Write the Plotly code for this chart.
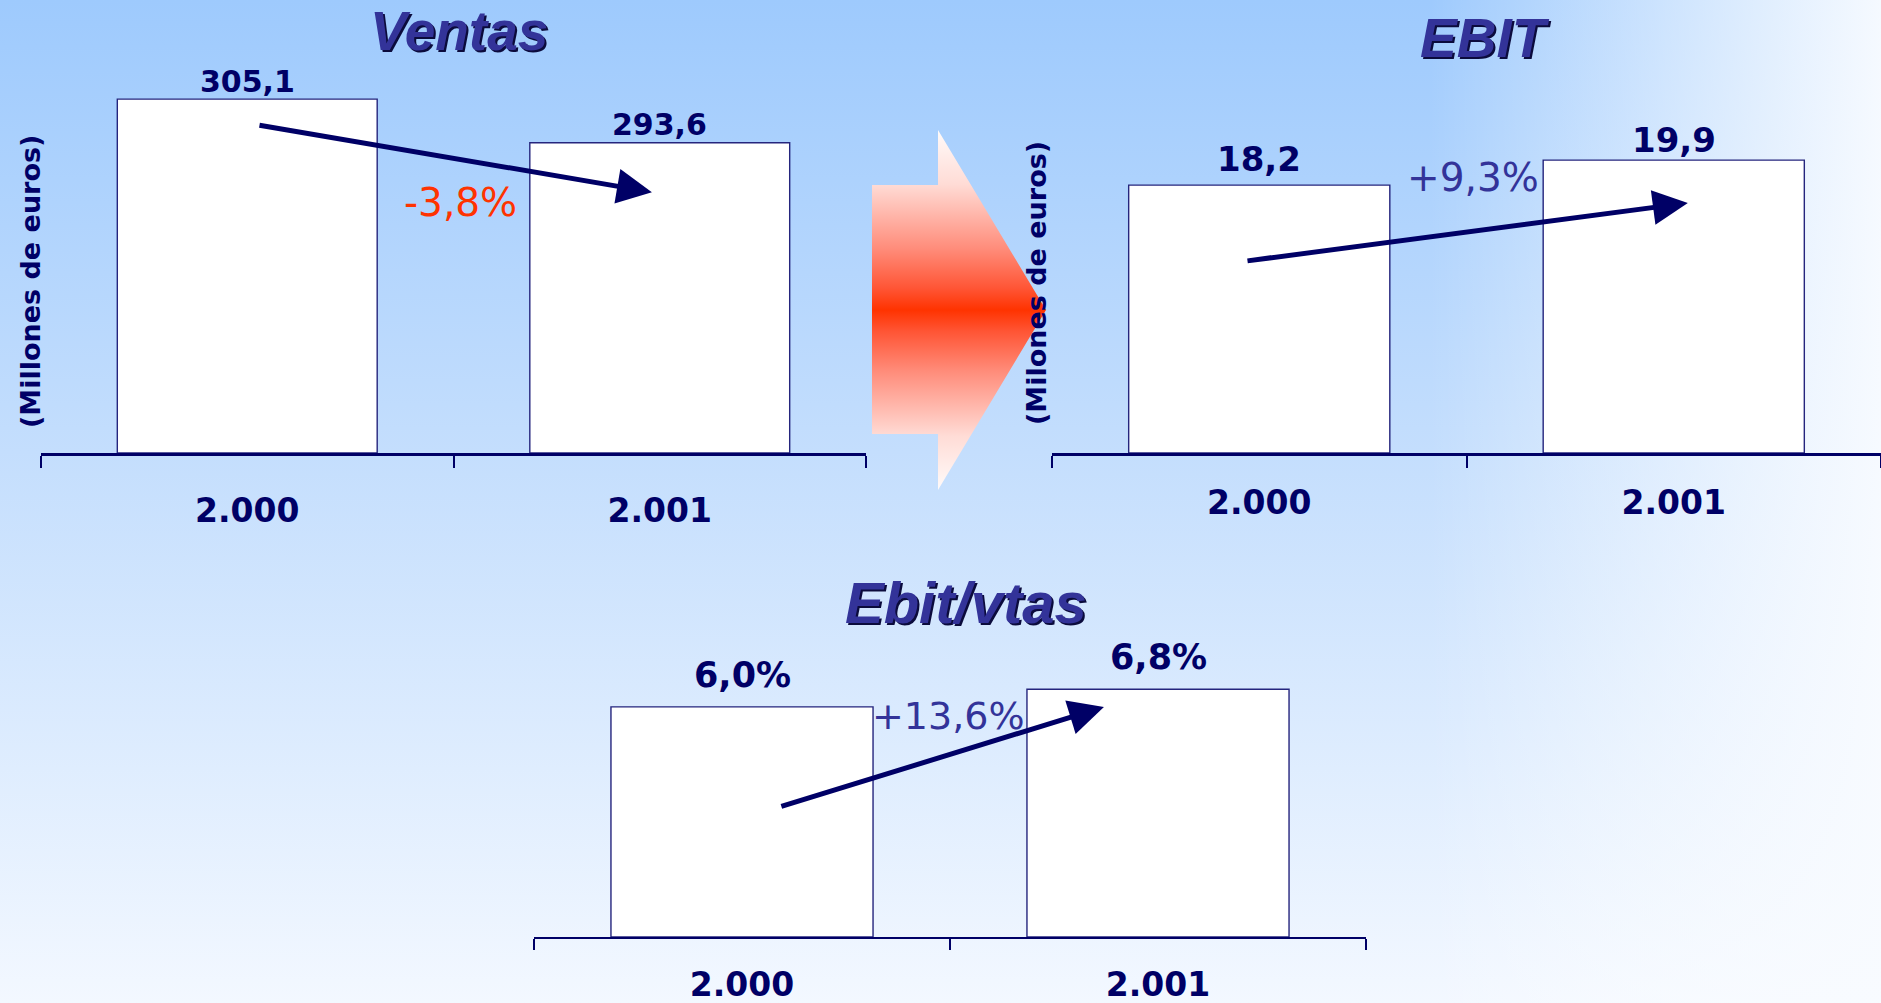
import base64
import plotly.graph_objects as go

W, H = 1881, 1003

# ---------------- data ----------------
years = ["2.000", "2.001"]
ventas = [305.1, 293.6]
ventas_labels = ["305,1", "293,6"]
ebit = [18.2, 19.9]
ebit_labels = ["18,2", "19,9"]
ratio = [6.0, 6.8]
ratio_labels = ["6,0%", "6,8%"]
ventas_change = "-3,8%"
ebit_change = "+9,3%"
ratio_change = "+13,6%"

# ---------------- style ----------------
NAVY = "#000066"
TITLE_C = "#333399"
BAR_LINE = "#25257d"
FONT_B = "DejaVu Sans"
FONT_T = "Liberation Sans, Arial, sans-serif"


def px(x):
    return x / W


def py(y):
    return 1 - y / H


# axis ranges (value axes are truncated in the original)
ventas_range = [211.9, 315.4]
ebit_range = [0, 26.7]
ratio_range = [-4.4, 12.64]
cat_range = [-0.5, 1.5]

# background (gradient) + red block arrow as an SVG layout image
svg = f"""<svg xmlns='http://www.w3.org/2000/svg' width='{W}' height='{H}' viewBox='0 0 {W} {H}' preserveAspectRatio='none'>
<defs>
<linearGradient id='v' x1='0' y1='0' x2='0' y2='1'>
<stop offset='0' stop-color='#9ecafd'/><stop offset='0.45' stop-color='#c4defd'/><stop offset='1' stop-color='#f3f8ff'/>
</linearGradient>
<linearGradient id='h' x1='0' y1='0' x2='1' y2='0'>
<stop offset='0.76' stop-color='#ffffff' stop-opacity='0'/><stop offset='1' stop-color='#f8fbff' stop-opacity='0.97'/>
</linearGradient>
<linearGradient id='r' x1='0' y1='0' x2='0' y2='1'>
<stop offset='0' stop-color='#fffbfa'/><stop offset='0.15' stop-color='#ffdcd6'/><stop offset='0.33' stop-color='#ff8c7a'/>
<stop offset='0.44' stop-color='#ff5535'/><stop offset='0.5' stop-color='#ff3300'/><stop offset='0.56' stop-color='#ff5535'/>
<stop offset='0.67' stop-color='#ff8c7a'/><stop offset='0.85' stop-color='#ffdcd6'/><stop offset='1' stop-color='#fffbfa'/>
</linearGradient>
</defs>
<rect x='0' y='0' width='{W}' height='{H}' fill='url(#v)'/>
<rect x='0' y='0' width='{W}' height='{H}' fill='url(#h)'/>
<polygon points='872,185 938,185 938,130 1046,310 938,490 938,434 872,434' fill='url(#r)'/>
</svg>"""
svg_uri = "data:image/svg+xml;base64," + base64.b64encode(svg.encode()).decode()

fig = go.Figure()

bar_style = dict(marker=dict(color="white", line=dict(color=BAR_LINE, width=1.4)),
                 hoverinfo="skip", showlegend=False)

fig.add_trace(go.Bar(x=years, y=[v - ventas_range[0] for v in ventas], base=ventas_range[0],
                     xaxis="x", yaxis="y", **bar_style))
fig.add_trace(go.Bar(x=years, y=[v - ebit_range[0] for v in ebit], base=ebit_range[0],
                     xaxis="x2", yaxis="y2", **bar_style))
fig.add_trace(go.Bar(x=years, y=[v - ratio_range[0] for v in ratio], base=ratio_range[0],
                     xaxis="x3", yaxis="y3", **bar_style))


def xaxis(dom, lw, standoff, anchor, ticklen=12):
    return dict(domain=[px(dom[0]), px(dom[1])], type="category", range=cat_range,
                anchor=anchor, showline=True,
                linecolor=NAVY, linewidth=lw, ticks="outside", tickson="boundaries",
                ticklen=ticklen, tickwidth=2, tickcolor=NAVY, showgrid=False, zeroline=False,
                tickfont=dict(family=FONT_B, size=33, color=NAVY, weight="bold"),
                ticklabelstandoff=standoff, fixedrange=True)


def yaxis(dom, rng, anchor):
    return dict(domain=[py(dom[0]), py(dom[1])], range=rng, visible=False, fixedrange=True,
                anchor=anchor)


fig.update_layout(
    width=W, height=H, autosize=False,
    margin=dict(l=0, r=0, t=0, b=0),
    paper_bgcolor="#ffffff", plot_bgcolor="rgba(0,0,0,0)",
    bargap=0.37,
    xaxis=xaxis([41, 866], 3, 26, "y"),
    yaxis=yaxis([453, 60], ventas_range, "x"),
    xaxis2=xaxis([1052, 1881], 3, 18, "y2"),
    yaxis2=yaxis([453, 60], ebit_range, "x2"),
    xaxis3=xaxis([534, 1366], 2, 17, "y3", 11),
    yaxis3=yaxis([937, 560], ratio_range, "x3"),
    images=[dict(source=svg_uri, xref="paper", yref="paper", x=0, y=1, sizex=1, sizey=1,
                 xanchor="left", yanchor="top", sizing="stretch", layer="below")],
)

ann = []

# titles with shadow
for text, cx, cy, size in [("Ventas", 459, 31, 55), ("EBIT", 1485, 38, 55), ("Ebit/vtas", 966, 602, 58)]:
    for col, dx, dy in [("#0b0b3c", 2, -2), (TITLE_C, 0, 0)]:
        ann.append(dict(text=f"<b><i>{text}</i></b>", x=px(cx), y=py(cy), xref="paper", yref="paper",
                        xanchor="center", yanchor="middle", showarrow=False, xshift=dx, yshift=dy,
                        font=dict(family=FONT_T, size=size, color=col)))

# y-axis titles
for text, cx, cy in [("(Millones de euros)", 30, 282), ("(Milones de euros)", 1037, 283)]:
    ann.append(dict(text=f"<b>{text}</b>", x=px(cx), y=py(cy), xref="paper", yref="paper",
                    textangle=-90, showarrow=False, xanchor="center", yanchor="middle",
                    font=dict(family=FONT_B, size=27, color=NAVY)))

# value labels (x given as category index)
for xa, ya, vals, labs, size, gaps in [("x", "y", ventas, ventas_labels, 30, [6, 6]),
                                       ("x2", "y2", ebit, ebit_labels, 34, [13, 7]),
                                       ("x3", "y3", ratio, ratio_labels, 35, [19, 19])]:
    for i, (v, lab, g) in enumerate(zip(vals, labs, gaps)):
        ann.append(dict(text=f"<b>{lab}</b>", x=i, y=v, xref=xa, yref=ya, showarrow=False,
                        xanchor="center", yanchor="bottom", yshift=g - 0.25 * size,
                        font=dict(family=FONT_B, size=size, color=NAVY)))

# trend arrows (tail -> head, in each subplot's coordinates)
for xa, ya, tail, head in [("x", "y", (0.026, 298.3), (0.981, 280.6)),
                           ("x2", "y2", (-0.032, 13.04), (1.034, 16.99)),
                           ("x3", "y3", (0.091, 1.48), (0.870, 6.0))]:
    ann.append(dict(text="", x=head[0], y=head[1], ax=tail[0], ay=tail[1], xref=xa, yref=ya,
                    axref=xa, ayref=ya, showarrow=True, arrowhead=2, arrowsize=1.4,
                    arrowwidth=5, arrowcolor=NAVY, standoff=0, startstandoff=0))

# change labels
for text, cx, cy, col, size in [(ventas_change, 460, 202, "#ff3300", 39),
                                (ebit_change, 1473, 177, TITLE_C, 39),
                                (ratio_change, 948, 716, TITLE_C, 38)]:
    ann.append(dict(text=text, x=px(cx), y=py(cy), xref="paper", yref="paper", showarrow=False,
                    xanchor="center", yanchor="middle", font=dict(family=FONT_B, size=size, color=col)))

fig.update_layout(annotations=ann)

fig.write_html("out.html", config={"displayModeBar": False},
               post_script="document.body.style.margin='0';document.body.style.overflow='hidden';")
